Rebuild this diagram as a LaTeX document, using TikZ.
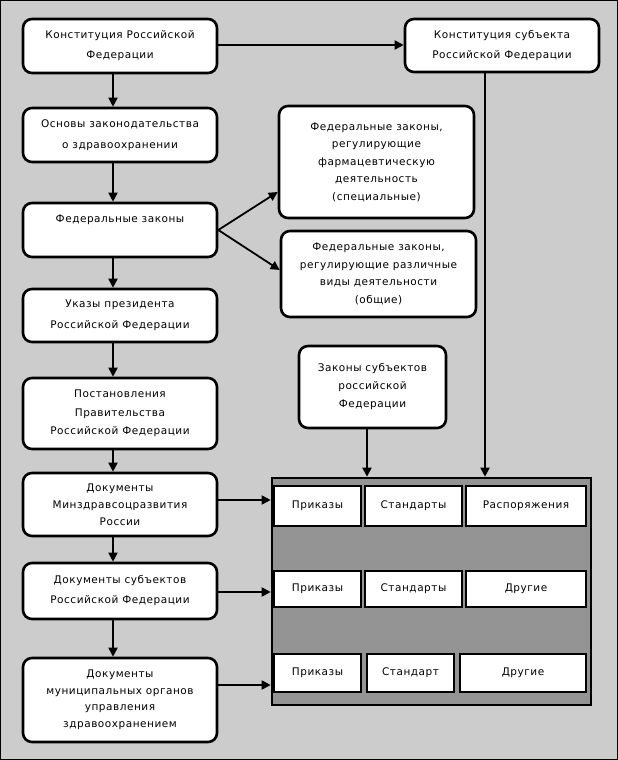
\documentclass[tikz,border=0pt]{standalone}
\usepackage{fontspec}
\setmainfont{DejaVu Sans}[LetterSpace=5]
\usetikzlibrary{arrows.meta,calc}
\begin{document}
\begin{tikzpicture}[x=1pt,y=-1pt,
  box/.style={draw,line width=2.6pt,rounded corners=9pt,fill=white,align=center,inner sep=0pt,font=\fontsize{10.5}{18}\selectfont},
  cell/.style={draw,line width=2.6pt,fill=white,inner sep=0pt,font=\fontsize{10.5}{12}\selectfont},
  cont/.style={draw,line width=2.6pt,fill=black!42,inner sep=0pt},
  arr/.style={line width=1.8pt,-{Triangle[length=9pt,width=9pt]}},
  bg/.style={fill=black!20,draw=black,line width=1pt}]
\useasboundingbox (0,0) rectangle (618,760);
\draw[bg] (0.5,0.5) rectangle (617.5,759.5);

% left column
\node[box,minimum width=194pt,minimum height=54pt,font=\fontsize{10.5}{20}\selectfont] (b1) at (120,46) {Конституция Российской\\Федерации};
\node[box,minimum width=194pt,minimum height=54pt,font=\fontsize{10.5}{21}\selectfont] (b2) at (120,135) {Основы законодательства\\о здравоохранении};
\node[box,minimum width=194pt,minimum height=54pt] (b3) at (120,230) {Федеральные законы\\\strut};
\node[box,minimum width=194pt,minimum height=53pt,font=\fontsize{10.5}{21}\selectfont] (b4) at (120,315.5) {Указы президента\\Российской Федерации};
\node[box,minimum width=194pt,minimum height=71pt,font=\fontsize{10.5}{18.5}\selectfont] (b5) at (120,413.5) {Постановления\\Правительства\\Российской Федерации};
\node[box,minimum width=194pt,minimum height=63pt,font=\fontsize{10.5}{17}\selectfont] (b6) at (120,504.5) {Документы\\Минздравсоцразвития\\России};
\node[box,minimum width=194pt,minimum height=56pt,font=\fontsize{10.5}{20}\selectfont] (b7) at (120,591) {Документы субъектов\\Российской Федерации};
\node[box,minimum width=194pt,minimum height=84pt,font=\fontsize{10.5}{16.5}\selectfont] (b8) at (120,700) {Документы\\муниципальных органов\\управления\\здравоохранением};

% right side
\node[box,minimum width=194pt,minimum height=53pt,font=\fontsize{10.5}{20}\selectfont] (ks) at (502,45.5) {Конституция субъекта\\Российской Федерации};
\node[box,minimum width=195pt,minimum height=112pt,font=\fontsize{10.5}{17.5}\selectfont] (sp) at (376.5,162) {Федеральные законы,\\регулирующие\\фармацевтическую\\деятельность\\(специальные)};
\node[box,minimum width=195pt,minimum height=86pt,font=\fontsize{10.5}{17.5}\selectfont] (gn) at (378.5,274) {Федеральные законы,\\регулирующие различные\\виды деятельности\\(общие)};
\node[box,minimum width=147pt,minimum height=82pt] (zs) at (372.5,387) {Законы субъектов\\российской\\Федерации};

% container
\node[cont,minimum width=319pt,minimum height=227pt] (cn) at (431.5,591.5) {};
\node[cell,minimum width=87pt,minimum height=40pt] (r1a) at (317.5,506) {Приказы};
\node[cell,minimum width=97pt,minimum height=40pt] (r1b) at (413.5,506) {Стандарты};
\node[cell,minimum width=120pt,minimum height=40pt] (r1c) at (526,506) {Распоряжения};
\node[cell,minimum width=87pt,minimum height=36pt] (r2a) at (317.5,589) {Приказы};
\node[cell,minimum width=97pt,minimum height=36pt] (r2b) at (413.5,589) {Стандарты};
\node[cell,minimum width=120pt,minimum height=36pt] (r2c) at (526,589) {Другие};
\node[cell,minimum width=87pt,minimum height=38pt] (r3a) at (317.5,673) {Приказы};
\node[cell,minimum width=87pt,minimum height=38pt] (r3b) at (410.5,673) {Стандарт};
\node[cell,minimum width=126pt,minimum height=38pt] (r3c) at (523,673) {Другие};

% vertical chain
\draw[arr] ([xshift=-7pt]b1.south) -- ([xshift=-7pt]b2.north);
\draw[arr] ([xshift=-7pt]b2.south) -- ([xshift=-7pt]b3.north);
\draw[arr] ([xshift=-7pt]b3.south) -- ([xshift=-7pt]b4.north);
\draw[arr] ([xshift=-7pt]b4.south) -- ([xshift=-7pt]b5.north);
\draw[arr] ([xshift=-7pt]b5.south) -- ([xshift=-7pt]b6.north);
\draw[arr] ([xshift=-7pt]b6.south) -- ([xshift=-7pt]b7.north);
\draw[arr] ([xshift=-7pt]b7.south) -- ([xshift=-7pt]b8.north);

% other connectors
\draw[arr] ([yshift=1pt]b1.east) -- ([yshift=1pt]b1.east -| ks.west);
\draw[arr] (b3.east) -- ([yshift=-30pt]sp.west);
\draw[arr] (b3.east) -- ([yshift=4pt]gn.west);
\draw[arr] ([xshift=-17pt]ks.south) -- ([xshift=-17pt]ks.south |- cn.north);
\draw[arr] ([xshift=-5.5pt]zs.south) -- ([xshift=-5.5pt]zs.south |- cn.north);
\draw[arr] ([yshift=4.5pt]b6.east) -- ([yshift=4.5pt]b6.east -| cn.west);
\draw[arr] ([yshift=-1pt]b7.east) -- ([yshift=-1pt]b7.east -| cn.west);
\draw[arr] ([yshift=15pt]b8.east) -- ([yshift=15pt]b8.east -| cn.west);
\end{tikzpicture}
\end{document}
